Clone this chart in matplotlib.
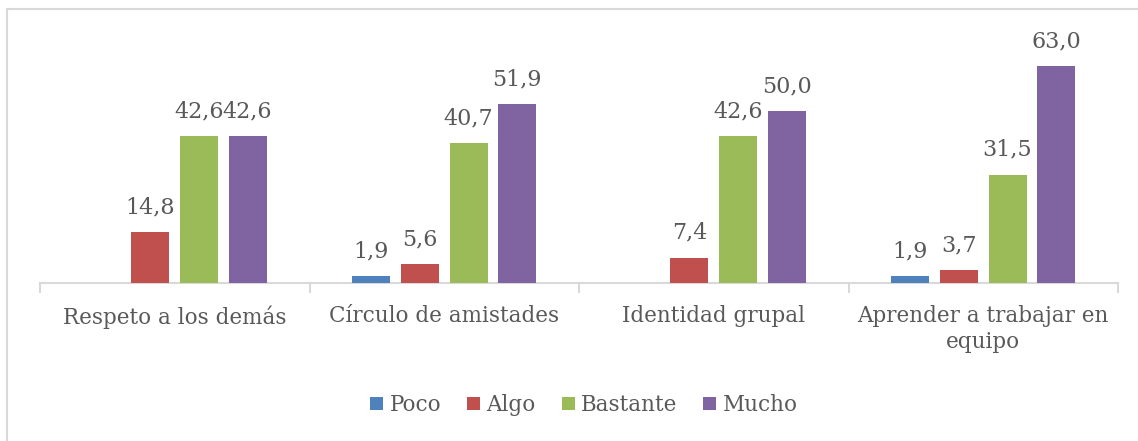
import numpy as np
import matplotlib.pyplot as plt
from matplotlib.patches import Rectangle

categorias = ['Respeto a los demás', 'Círculo de amistades', 'Identidad grupal',
              'Aprender a trabajar en\nequipo']
series = ['Poco', 'Algo', 'Bastante', 'Mucho']
poco = [np.nan, 1.9, np.nan, 1.9]
algo = [14.8, 5.6, 7.4, 3.7]
bastante = [42.6, 40.7, 42.6, 31.5]
mucho = [42.6, 51.9, 50.0, 63.0]
colores = ['#4F81BD', '#C0504D', '#9BBB59', '#8064A2']

plt.rcParams['font.family'] = ['DejaVu Serif']
gris = '#595959'

fig = plt.figure(figsize=(11.38, 4.41), dpi=100)
W, H = 1138, 441
ax = fig.add_axes([40 / W, 1 - 283 / H, (1118 - 40) / W, (283 - 42) / H])

x = np.arange(len(categorias))
slot = 0.18
ancho = 0.141
for i, (nombre, vals) in enumerate(zip(series, [poco, algo, bastante, mucho])):
    pos = x + (i - 1.5) * slot
    v = np.array(vals, dtype=float)
    ax.bar(pos, v, ancho, color=colores[i], label=nombre, zorder=3)
    for p, val in zip(pos, v):
        if np.isnan(val):
            continue
        ax.text(p, val + 4.0, f'{val:.1f}'.replace('.', ','), ha='center', va='bottom',
                fontsize=16, color=gris)

ax.set_xlim(-0.5, len(categorias) - 0.5)
ax.set_ylim(0, 70)
ax.set_yticks([])
for s in ['top', 'left', 'right']:
    ax.spines[s].set_visible(False)
ax.spines['bottom'].set_color('#D9D9D9')
ax.spines['bottom'].set_linewidth(1.5)
ax.set_xticks(x)
ax.set_xticklabels(categorias, fontsize=15.5, color=gris, linespacing=1.25)
ax.tick_params(axis='x', which='major', length=0, pad=16)
ax.set_xticks(np.arange(len(categorias) + 1) - 0.5, minor=True)
ax.tick_params(axis='x', which='minor', length=7, width=1.5, color='#D9D9D9')

fig.legend(loc='center', bbox_to_anchor=(584 / W, 1 - 405 / H), ncol=4, frameon=False,
           fontsize=15.5, labelcolor=gris, handlelength=0.6, handleheight=0.6,
           handletextpad=0.3, columnspacing=1.2)

fig.patches.append(Rectangle((7 / W, -0.05), 1.1, 1 - 9 / H + 0.05, transform=fig.transFigure,
                             fill=False, edgecolor='#D9D9D9', linewidth=1.5))

fig.savefig('out.png', dpi=100)
